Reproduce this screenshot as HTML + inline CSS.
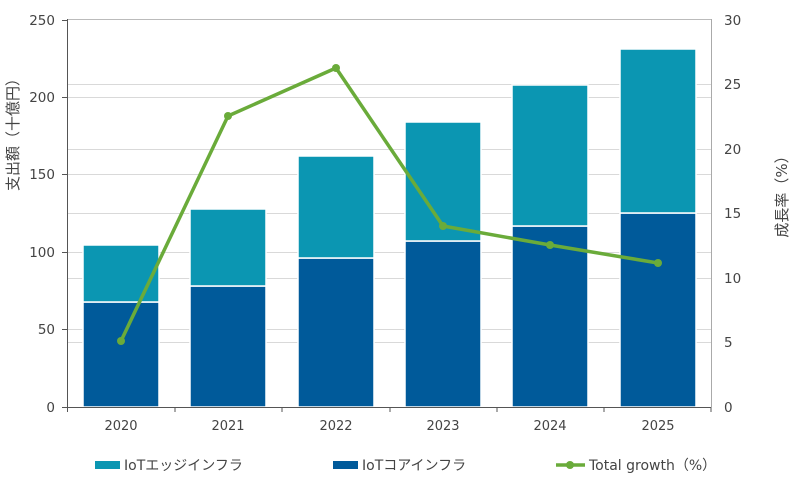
<!DOCTYPE html>
<html><head><meta charset="utf-8"><style>
body{margin:0;background:#fff}
text{font-family:"DejaVu Sans","Liberation Sans","Noto Sans CJK JP",sans-serif;fill:#444}
</style></head><body>
<svg width="800" height="493" viewBox="0 0 800 493" xmlns="http://www.w3.org/2000/svg">
<g stroke="#d9d9d9" stroke-width="1">
<line x1="67" x2="711" y1="97.5" y2="97.5"/><line x1="67" x2="711" y1="174.5" y2="174.5"/><line x1="67" x2="711" y1="252.5" y2="252.5"/><line x1="67" x2="711" y1="329.5" y2="329.5"/>
<line x1="67" x2="711" y1="84.5" y2="84.5"/><line x1="67" x2="711" y1="149.5" y2="149.5"/><line x1="67" x2="711" y1="213.5" y2="213.5"/><line x1="67" x2="711" y1="278.5" y2="278.5"/><line x1="67" x2="711" y1="342.5" y2="342.5"/>
</g>
<line x1="67" x2="711" y1="19.5" y2="19.5" stroke="#bbb"/>
<line x1="711.5" x2="711.5" y1="19" y2="407" stroke="#aaa"/>
<g stroke="#fff" stroke-width="1.5">
<rect x="83" y="302" width="76" height="105" fill="#005a9a"/><rect x="83" y="245" width="76" height="57" fill="#0b96b2"/>
<rect x="190" y="286" width="76" height="121" fill="#005a9a"/><rect x="190" y="209" width="76" height="77" fill="#0b96b2"/>
<rect x="298" y="258" width="76" height="149" fill="#005a9a"/><rect x="298" y="156" width="76" height="102" fill="#0b96b2"/>
<rect x="405" y="241" width="76" height="166" fill="#005a9a"/><rect x="405" y="122" width="76" height="119" fill="#0b96b2"/>
<rect x="512" y="226" width="76" height="181" fill="#005a9a"/><rect x="512" y="85" width="76" height="141" fill="#0b96b2"/>
<rect x="620" y="213" width="76" height="194" fill="#005a9a"/><rect x="620" y="49" width="76" height="164" fill="#0b96b2"/>
</g>
<g stroke="#555" stroke-width="1">
<line x1="67.5" x2="67.5" y1="19" y2="407"/><line x1="62" x2="711" y1="407.5" y2="407.5"/>
<line x1="62" x2="67" y1="20.5" y2="20.5"/><line x1="62" x2="67" y1="97.5" y2="97.5"/><line x1="62" x2="67" y1="174.5" y2="174.5"/><line x1="62" x2="67" y1="252.5" y2="252.5"/><line x1="62" x2="67" y1="329.5" y2="329.5"/>
<line x1="175" x2="175" y1="407" y2="412"/><line x1="282" x2="282" y1="407" y2="412"/><line x1="390" x2="390" y1="407" y2="412"/><line x1="497" x2="497" y1="407" y2="412"/><line x1="604" x2="604" y1="407" y2="412"/><line x1="711" x2="711" y1="407" y2="412"/><line x1="67.5" x2="67.5" y1="407" y2="412"/>
</g>
<g text-anchor="end" font-size="13.5">
<text x="55" y="25">250</text><text x="55" y="102">200</text><text x="55" y="179">150</text><text x="55" y="257">100</text><text x="55" y="334">50</text><text x="55" y="412">0</text>
</g>
<g font-size="13.5">
<text x="724" y="25">30</text><text x="724" y="89">25</text><text x="724" y="154">20</text><text x="724" y="218">15</text><text x="724" y="283">10</text><text x="724" y="347">5</text><text x="724" y="412">0</text>
</g>
<g text-anchor="middle" font-size="13">
<text x="121" y="430">2020</text><text x="228" y="430">2021</text><text x="336" y="430">2022</text><text x="443" y="430">2023</text><text x="550" y="430">2024</text><text x="658" y="430">2025</text>
</g>
<text transform="translate(18,131) rotate(-90)" text-anchor="middle" font-size="15">支出額（十億円）</text>
<text transform="translate(787,193) rotate(-90)" text-anchor="middle" font-size="15">成長率（%）</text>
<polyline points="121,341 228,116 336,68 443,226 550,245 658,263" fill="none" stroke="#6aab3a" stroke-width="3.5"/>
<g fill="#6aab3a"><circle cx="121" cy="341" r="4"/><circle cx="228" cy="116" r="4"/><circle cx="336" cy="68" r="4"/><circle cx="443" cy="226" r="4"/><circle cx="550" cy="245" r="4"/><circle cx="658" cy="263" r="4"/></g>
<rect x="95" y="461" width="25" height="8" fill="#0b96b2"/><text x="124" y="470" font-size="14">IoTエッジインフラ</text>
<rect x="333" y="461" width="25" height="8" fill="#005a9a"/><text x="362" y="470" font-size="14">IoTコアインフラ</text>
<line x1="556" x2="585" y1="465" y2="465" stroke="#6aab3a" stroke-width="3.5"/><circle cx="570" cy="465" r="4" fill="#6aab3a"/>
<text x="589" y="470" font-size="14">Total growth（%）</text>
</svg>
</body></html>
